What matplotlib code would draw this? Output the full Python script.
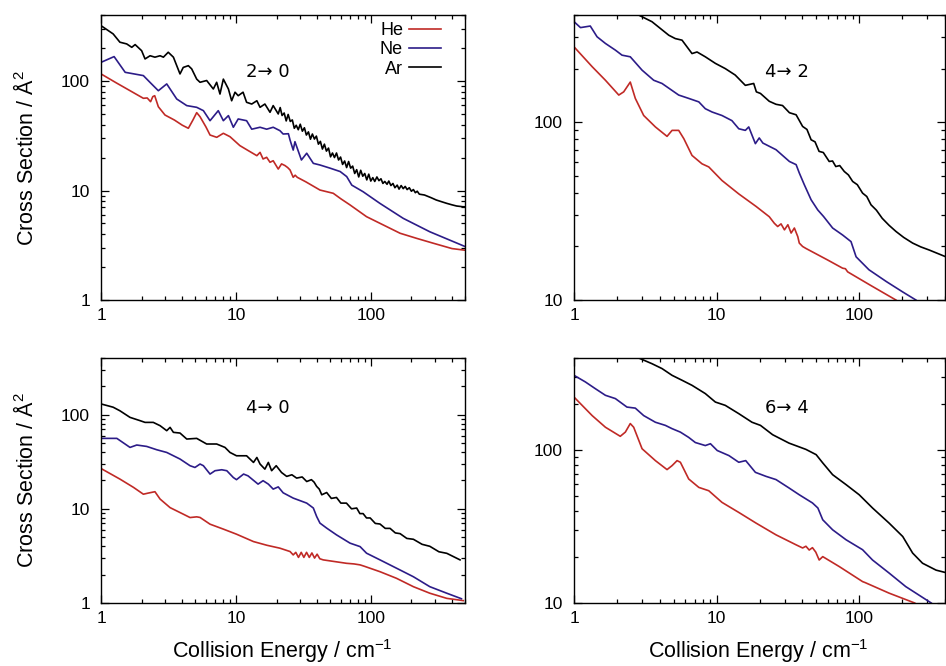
import matplotlib
matplotlib.use("Agg")
import matplotlib.pyplot as plt
from matplotlib.ticker import LogLocator, NullFormatter

plt.rcParams['font.family'] = ['Liberation Sans', 'DejaVu Sans']
plt.rcParams['mathtext.fontset'] = 'custom'
plt.rcParams['mathtext.rm'] = 'Liberation Sans'
plt.rcParams['mathtext.it'] = 'Liberation Sans'

RED = '#c02a26'
BLUE = '#2c1c88'
BLACK = '#000000'

# ---- 2 -> 0 ----
he20_e = [1, 1.3, 1.6, 2.06, 2.2, 2.33, 2.42, 2.5, 2.66, 2.98, 3.5, 4.0, 4.44, 4.8, 5.12, 5.42, 6.0,
          6.43, 7.21, 8.07, 9.04, 10.7, 12.3, 14.3, 15.1, 15.9, 16.9, 17.9, 18.9, 20.6, 21.8, 23.1,
          24.2, 25.2, 26.6, 27.5, 28.5, 33, 42, 52.7, 60, 70, 93, 120, 165, 220, 291, 400, 500]
he20_s = [116, 96, 83, 69.5, 70, 64.7, 72, 73.4, 58.2, 48.9, 44, 39.5, 37, 44, 51.4, 47.2, 38,
          32.1, 30.6, 33.3, 31, 25.7, 23.2, 20.8, 22.3, 19.4, 20.1, 18.1, 18.7, 15.7, 17.5, 16.9,
          16.2, 15.4, 13.2, 13.8, 13.2, 12, 10.1, 9.43, 8.4, 7.4, 5.77, 4.94, 4.07, 3.65, 3.30, 2.95, 2.85]

ne20_e = [1, 1.25, 1.51, 2.06, 2.31, 2.66, 3.07, 3.64, 4.32, 5.12, 5.74, 6.43, 7.4, 8.07, 8.8, 9.57,
          10.4, 12, 13.1, 15.1, 16.9, 18.9, 21.2, 22.4, 24.5, 25.2, 26.6, 27.4, 30.6, 33.5, 37.5, 42,
          49.9, 59.3, 66.3, 72.3, 87.7, 116.7, 174, 274, 500]
ne20_s = [148, 167, 120, 112, 97, 81.5, 94, 68.5, 59.6, 57.5, 53.6, 43.4, 53.6, 43.4, 48.3, 37.8,
          45, 43.4, 36.3, 37.8, 36.3, 37.8, 35.2, 32.8, 33, 28.9, 23.4, 27.9, 19, 21.9, 17.7, 17.1,
          16, 14.9, 13.4, 11.2, 9.75, 7.64, 5.57, 4.2, 3.08]

ar20_e = [1, 1.23, 1.38, 1.55, 1.69, 1.79, 2.0, 2.12, 2.31, 2.51, 2.74, 2.9, 3.15, 3.44, 3.85, 4.07,
          4.44, 4.7, 5.12, 5.42, 6.07, 6.8, 7.2, 7.62, 8.07, 8.8, 9.3, 9.85, 10.4, 11.3, 12, 13.1,
          14.3, 15.1, 16.4, 17.9, 18.9, 20.6,
          21.3, 22.0, 22.8, 23.6, 24.4, 25.3, 26.2, 27.1, 28.0, 29.0, 30.0, 31.1, 32.2, 33.3, 34.5,
          35.7, 36.9, 38.2, 39.5, 40.9, 42.3, 43.8, 45.3, 46.9, 48.6, 50.3, 52.0, 53.8, 55.7, 57.7,
          59.7, 61.8, 64.0, 66.2, 68.5, 70.9, 73.4, 76.0, 78.6, 81.4, 84.2, 87.2, 90.2, 93.4, 96.6,
          100, 103.5, 107, 111, 115, 119, 123, 127, 132, 136, 141, 146, 151, 157, 162, 168, 174,
          180, 186, 193, 200, 207, 214, 221, 229, 250, 280, 306, 335, 365, 400, 433, 481, 500]
ar20_s = [320, 269, 226, 218, 203, 215, 189, 159, 170, 165, 170, 165, 183, 165, 116, 133,
          138, 129, 104, 97.3, 101, 84.5, 97.3, 76, 104, 84.5, 66, 79, 73.4, 79, 63.9, 61.6,
          66, 57.5, 61.6, 51.8, 59.6, 50,
          57.2, 48.4, 51.0, 43.2, 49.5, 42.7, 44.1, 37.0, 39.4, 35.9, 40.3, 34.8, 37.4, 32.1, 34.3,
          29.4, 32.8, 29.5, 31.4, 26.5, 28.1, 23.9, 26.5, 22.9, 24.4, 20.3, 22.0, 20.0, 22.0, 19.0,
          20.2, 17.3, 18.6, 16.2, 18.4, 16.0, 16.7, 14.3, 15.5, 13.3, 15.3, 13.5, 14.3, 12.5, 14.1,
          12.2, 13.1, 12.1, 13.3, 12.3, 12.8, 11.6, 12.1, 11.4, 12.2, 11.1, 11.6, 10.6, 11.2, 10.3, 11.1, 10.4,
          10.9, 10.2, 10.6, 9.85, 10.2, 9.55, 9.85, 9.26, 9.1, 8.6, 8.19, 7.9, 7.64, 7.4, 7.22, 7.11, 7.1]

# ---- 4 -> 2 ----
he42_e = [1, 1.34, 1.66, 2.06, 2.23, 2.48, 2.69, 3.08, 3.72, 4.49, 4.87, 5.42, 5.89, 6.72, 7.9,
          8.81, 10.9, 14.3, 18.9, 23.4, 25.4, 26.8, 28.3, 29.9, 31.6, 33.3, 35.1, 37.1, 38, 40.1,
          42.3, 60, 76.5, 80, 83, 120, 181]
he42_s = [265, 205, 172, 142, 148, 168, 136, 109, 94, 83.2, 89.9, 89.9, 80.7, 65, 58.3,
          56, 47, 39.5, 33.6, 29.4, 27, 25.9, 26.8, 24.8, 26.5, 23.8, 25.4, 22.7, 20.9, 20,
          19.5, 16.8, 15.1, 15.0, 14.4, 12.1, 10]

ne42_e = [1, 1.11, 1.30, 1.45, 1.66, 1.95, 2.17, 2.48, 3.0, 3.62, 4.14, 5.42, 6.37, 7.5, 8.33,
          9.3, 10.9, 12.8, 14.3, 15.9, 16.8, 18.7, 19.9, 21.1, 26.1, 32.4, 36.1, 38, 41.2, 46,
          51.2, 56.2, 65.1, 76.5, 87.6, 95.1, 117, 155, 202, 250]
ne42_s = [367, 340, 347, 302, 277, 254, 238, 233, 196, 172, 165, 142, 136, 130, 119,
          114, 109, 102, 91.8, 89.9, 94, 75.7, 81.5, 76.3, 70, 60.1, 57.7, 51.8, 44.5, 36.6,
          32.1, 29.5, 25.4, 23.2, 21.3, 17.5, 14.8, 12.7, 11.1, 10]

ar42_e = [2.84, 3.52, 4.62, 5.13, 5.72, 6.72, 7.29, 8.33, 9.8, 11.5, 13.5, 15.9, 18.2, 19, 20.3,
          23.4, 26.1, 29, 32.4, 36.1, 40.1, 43, 46, 49, 52.3, 56, 61.6, 65, 68.5, 73, 78.6, 84,
          90, 97, 105.6, 113, 121, 132, 145, 162, 181, 205, 237, 270, 310, 405]
ar42_s = [400, 367, 308, 295, 289, 243, 248, 233, 214, 200, 184, 161, 165, 148, 145,
          131, 126, 124, 113, 110, 94.6, 91, 79.6, 77.5, 68.5, 67.5, 60.1, 60.5, 56.3, 57, 52.8, 50.5,
          46.4, 44.5, 39.9, 38.2, 34.3, 32, 28.8, 26.3, 24.3, 22.5, 20.9, 19.9, 19.1, 17.5]

# ---- 4 -> 0 ----
he40_e = [1, 1.38, 1.74, 2.06, 2.24, 2.51, 2.74, 3.25, 4.07, 4.57, 5.12, 5.42, 6.43, 8.07, 10.1,
          13.5, 17, 21.2, 25.2, 26.6, 27.8, 29.1, 30.5, 31.9, 33.4, 35, 36.6, 38.3, 40, 41.9,
          44.4, 66, 75, 83.3, 90, 117, 155, 207, 274, 366, 485]
he40_s = [26.8, 20.7, 16.9, 14.3, 14.7, 15.2, 12.7, 10.3, 8.78, 8.08, 8.22, 8.1, 6.87, 6.09, 5.38,
          4.49, 4.1, 3.82, 3.52, 3.24, 3.45, 3.05, 3.45, 3.05, 3.45, 3.05, 3.4, 3.0, 3.3, 2.95,
          2.87, 2.64, 2.6, 2.54, 2.45, 2.15, 1.83, 1.49, 1.27, 1.12, 1.06]

ne40_e = [1, 1.31, 1.64, 1.84, 2.18, 2.59, 3.07, 3.85, 4.57, 4.97, 5.42, 5.74, 6.43, 7.0, 7.85,
          8.56, 9.57, 10.1, 11.4, 12.3, 14.6, 15.9, 17.4, 18.9, 20.6, 22.4, 26.6, 33.5, 37.5,
          39.7, 42, 47.1, 55.7, 70.2, 83.3, 93, 117, 165, 207, 274, 366, 470]
ne40_s = [56, 56, 44.9, 47.6, 46, 42.4, 39.7, 33.8, 28.7, 27.5, 29.9, 28.7, 23.4, 25.4, 26,
          25.4, 21.5, 20.4, 23.4, 22.4, 18.3, 19.9, 18.3, 16.2, 17.1, 14.8, 13, 11.5, 10.2,
          8.28, 7.05, 6.24, 5.29, 4.32, 3.97, 3.38, 2.87, 2.24, 1.9, 1.49, 1.27, 1.11]

ar40_e = [1, 1.23, 1.38, 1.64, 1.95, 2.12, 2.44, 2.74, 3.07, 3.25, 3.44, 3.85, 4.32, 5.12, 6.07,
          7.2, 8.3, 9.04, 10.1, 12, 13.5, 14.3, 15.1, 16.4, 17.4, 18.4, 19.9, 21.8, 23.8, 26,
          28.2, 31, 33.5, 36.3, 38, 39.7, 41.5, 43.3, 47.1, 51, 55.7, 60, 66, 72, 78.6, 83,
          87.7, 93, 99, 108, 117, 128, 139, 152, 165, 185, 207, 240, 274, 320, 366, 459]
ar40_s = [130, 120, 110, 93.6, 86.3, 82.8, 82.8, 76.4, 67.6, 73.3, 64.9, 63.8, 55.1, 56, 48.8,
          48.8, 44.9, 39.7, 36.6, 36.6, 31.1, 35.1, 29.9, 26.4, 31.1, 25.4, 28.7, 24.3, 22.1, 23,
          21.2, 21.8, 19.5, 20.4, 19.2, 17.3, 16.2, 14.1, 14.9, 12.9, 13.2, 11.5, 11.5, 10.0, 10.2, 8.9,
          8.9, 8.0, 8.0, 7.0, 6.9, 6.2, 6.2, 5.55, 5.45, 4.85, 4.75, 4.2, 4.0, 3.5, 3.37, 2.87]

# ---- 6 -> 4 ----
he64_e = [1, 1.34, 1.66, 2.11, 2.29, 2.48, 2.62, 3.0, 3.72, 4.49, 4.87, 5.28, 5.57, 6.37, 7.5,
          8.81, 10.9, 14.3, 18.9, 26.1, 36.1, 40.1, 42.3, 44.6, 47, 49.6, 52.4, 55.5, 72.5, 105.6,
          110, 162, 245]
he64_s = [222, 168, 141, 123, 131, 149, 141, 102, 85.3, 74.5, 79.1, 85.3, 83.2, 64.7, 57,
          54.2, 45.5, 39.1, 33.3, 27.9, 24, 22.9, 23.5, 22.2, 23.0, 21.5, 19.1, 20.1, 17.3, 13.8,
          13.6, 11.6, 10]

ne64_e = [1, 1.2, 1.41, 1.66, 1.95, 2.35, 2.69, 3.08, 3.72, 4.37, 4.87, 5.57, 6.37, 7.09, 8.33,
          9.05, 10.1, 12.2, 14.3, 16, 18.7, 22.2, 26.1, 32.2, 38, 47, 51.3, 55.5, 65.1, 80.9,
          105.6, 124, 162, 212, 320]
ne64_s = [308, 279, 252, 228, 217, 191, 188, 168, 152, 145, 138, 131, 121, 112, 107,
          110, 99.3, 92, 83.2, 85.3, 71.5, 67.3, 64.1, 56.5, 51, 45.1, 41.8, 35, 30.1, 25.9,
          22.3, 19.1, 15.7, 12.8, 10]

ar64_e = [2.84, 3.52, 4.14, 4.87, 5.72, 6.72, 8.33, 9.8, 11.5, 14.3, 17.7, 20.3, 24.7, 32.2,
          42.3, 49.9, 55.5, 65.1, 80.9, 100, 124, 162, 202, 237, 278, 346, 405]
ar64_s = [400, 367, 341, 308, 286, 265, 234, 206, 196, 173, 152, 145, 126, 111,
          101, 93.3, 82.4, 69, 59.4, 51, 41.8, 33.3, 27.2, 21.2, 18.2, 16.4, 15.8]

panels = [
    dict(box=(0.1068, 0.5495, 0.3848, 0.4279), xmax=500, ymin=1, label='2\u2192 0', lx=0.459,
         ly=0.80, data=[(he20_e, he20_s), (ne20_e, ne20_s), (ar20_e, ar20_s)]),
    dict(box=(0.6068, 0.5495, 0.3922, 0.4279), xmax=400, ymin=10, label='4\u2192 2', lx=0.574,
         ly=0.80, data=[(he42_e, he42_s), (ne42_e, ne42_s), (ar42_e, ar42_s)]),
    dict(box=(0.1068, 0.0946, 0.3848, 0.3679), xmax=500, ymin=1, label='4\u2192 0', lx=0.459,
         ly=0.796, data=[(he40_e, he40_s), (ne40_e, ne40_s), (ar40_e, ar40_s)]),
    dict(box=(0.6068, 0.0946, 0.3922, 0.3679), xmax=400, ymin=10, label='6\u2192 4', lx=0.574,
         ly=0.796, data=[(he64_e, he64_s), (ne64_e, ne64_s), (ar64_e, ar64_s)]),
]

names = ['He', 'Ne', 'Ar']
colors = [RED, BLUE, BLACK]

fig = plt.figure(figsize=(9.46, 6.66), dpi=100)

for i, p in enumerate(panels):
    ax = fig.add_axes(p['box'])
    for (e, s), name, c in zip(p['data'], names, colors):
        ax.plot(e, s, color=c, lw=1.2, label=name)

    ax.set_xscale('log')
    ax.set_yscale('log')
    ax.set_xlim(1, p['xmax'])
    ax.set_ylim(p['ymin'], 400)

    ax.set_xticks([1, 10, 100])
    ax.set_xticklabels(['1', '10', '100'])
    yt = [1, 10, 100] if p['ymin'] == 1 else [10, 100]
    ax.set_yticks(yt)
    ax.set_yticklabels([str(v) for v in yt])
    ax.xaxis.set_minor_locator(LogLocator(base=10, subs=range(2, 10), numticks=20))
    ax.yaxis.set_minor_locator(LogLocator(base=10, subs=range(2, 10), numticks=20))
    ax.xaxis.set_minor_formatter(NullFormatter())
    ax.yaxis.set_minor_formatter(NullFormatter())

    ax.tick_params(which='both', direction='in', top=True, right=True, width=0.9, labelsize=12.5)
    ax.tick_params(which='major', length=6)
    ax.tick_params(which='minor', length=3)
    ax.tick_params(axis='y', pad=8)
    ax.tick_params(axis='x', pad=6)
    for sp in ax.spines.values():
        sp.set_linewidth(1.0)

    # transition label, DejaVu for its longer arrow
    ax.text(p['lx'], p['ly'], p['label'], transform=ax.transAxes, ha='center', va='center',
            fontsize=13, family=['DejaVu Sans'])

    if i % 2 == 0:
        ax.set_ylabel('Cross Section / \u00c5$^2$', fontsize=15.5)
        ax.yaxis.set_label_coords(-0.172, 0.5)
    if i >= 2:
        ax.set_xlabel('Collision Energy / cm$^{-1}$', fontsize=15.5)
        ax.xaxis.set_label_coords(0.497, -0.14)
    if i == 0:
        ax.legend(loc='upper right', bbox_to_anchor=(0.934, 0.975), frameon=False,
                  markerfirst=False, handlelength=1.75, handletextpad=0.35, labelspacing=0.12,
                  borderpad=0, borderaxespad=0, fontsize=13)

fig.savefig('out.png', dpi=100)
